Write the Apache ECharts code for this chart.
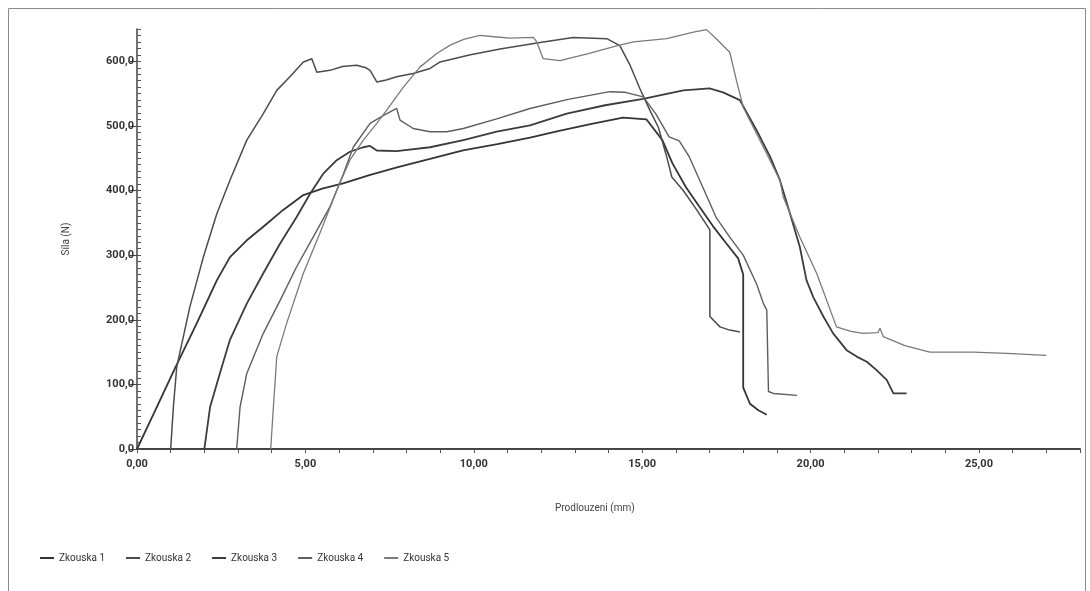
<!DOCTYPE html>
<html>
<head>
<meta charset="utf-8">
<script src="https://cdn.jsdelivr.net/npm/echarts@6/dist/echarts.min.js"></script>
<style>
html,body{margin:0;padding:0;background:#fff;}
#c{width:1090px;height:591px;}
</style>
</head>
<body>
<div id="c"></div>
<script>
// ---- data (x = Prodlouzeni mm, y = Síla N) ----
const seriesNames = ['Zkouska 1','Zkouska 2','Zkouska 3','Zkouska 4','Zkouska 5'];
const xTicks = [0,5,10,15,20,25];
const yTicks = [0,100,200,300,400,500,600];

const zkouska1 = [[0,0],[0.5,55],[1.13,125],[1.77,194],[2.37,261],[2.76,297],[3.26,323],[3.75,344],[4.34,370],[4.94,393],[5.5,403],[6.12,411],[6.9,424],[7.72,436],[8.7,449],[9.68,462],[10.7,472],[11.67,482],[12.5,492],[13.5,503],[14.43,513],[15.13,510],[15.6,478],[15.9,442],[16.3,405],[16.7,375],[17.1,345],[17.5,318],[17.85,295],[18.0,270],[18.0,95],[18.2,70],[18.45,60],[18.7,53]];

const zkouska2 = [[1.0,0],[1.08,65],[1.18,127],[1.57,220],[1.97,297],[2.37,364],[2.76,416],[3.26,478],[3.75,519],[4.15,555],[4.54,576],[4.94,599],[5.19,604],[5.34,583],[5.73,586],[6.1,592],[6.52,594],[6.8,590],[6.92,586],[7.12,568],[7.4,571],[7.71,576],[8.2,581],[8.7,589],[9.0,599],[9.9,610],[10.78,619],[11.97,629],[12.95,637],[13.95,635],[14.24,627],[14.34,624],[14.64,594],[14.93,558],[15.23,524],[15.48,498],[15.73,452],[15.88,421],[16.22,400],[16.62,370],[17.01,339],[17.01,205],[17.31,189],[17.6,184],[17.9,181]];

const zkouska3 = [[2.0,0],[2.17,65],[2.46,117],[2.76,169],[3.26,225],[3.75,272],[4.25,318],[4.74,359],[5.14,395],[5.53,426],[5.93,447],[6.32,460],[6.72,467],[6.92,469],[7.12,462],[7.71,461],[8.7,467],[9.69,478],[10.68,491],[11.67,501],[12.76,519],[13.9,532],[15.03,542],[16.22,555],[17.0,558],[17.4,552],[17.9,540],[18.4,493],[18.8,452],[19.09,416],[19.39,364],[19.68,313],[19.88,261],[20.08,235],[20.38,205],[20.67,179],[21.07,153],[21.37,143],[21.67,135],[21.96,122],[22.26,107],[22.46,86],[22.85,86]];

const zkouska4 = [[2.96,0],[3.06,65],[3.26,117],[3.75,179],[4.25,230],[4.74,282],[5.23,328],[5.73,375],[6.13,426],[6.42,467],[6.92,504],[7.31,516],[7.71,527],[7.81,509],[8.2,496],[8.7,491],[9.2,491],[9.69,496],[10.68,511],[11.67,527],[12.8,541],[14.04,553],[14.5,552],[15.03,545],[15.4,519],[15.8,483],[16.1,477],[16.4,452],[16.8,405],[17.2,358],[17.6,328],[18.0,300],[18.4,255],[18.6,225],[18.7,215],[18.75,215],[18.75,89],[18.9,86],[19.6,83]];

const zkouska5 = [[3.97,0],[4.05,65],[4.15,143],[4.44,194],[4.94,272],[5.43,334],[5.93,400],[6.32,447],[6.72,478],[7.12,504],[7.41,524],[7.91,560],[8.4,591],[8.9,612],[9.3,625],[9.7,634],[10.18,640],[10.6,638],[11.07,636],[11.77,637],[11.87,630],[12.06,604],[12.56,601],[13.4,612],[14.24,624],[14.74,630],[15.73,635],[16.52,645],[16.91,649],[17.2,635],[17.6,614],[17.8,570],[18.0,529],[18.6,467],[19.09,416],[19.19,390],[19.68,328],[20.18,272],[20.77,189],[21.2,182],[21.56,179],[22.0,180],[22.06,187],[22.16,174],[22.8,160],[23.54,150],[24.83,150],[25.82,148],[27.0,145]];

const seriesData = [zkouska1, zkouska2, zkouska3, zkouska4, zkouska5];
const seriesColors = ['#353535','#4c4c4c','#3c3c3c','#5e5e5e','#7a7a7a'];
const seriesWidths = [1.8, 1.5, 1.8, 1.4, 1.3];

const FONT = "Roboto, 'Liberation Sans', sans-serif";
const chart = echarts.init(document.getElementById('c'), null, {renderer:'canvas'});

const fmtX = v => v.toFixed(2).replace('.', ',');
const fmtY = v => v.toFixed(1).replace('.', ',');

chart.setOption({
  animation: false,
  backgroundColor: '#ffffff',
  grid: {left: 137, right: 10, top: 29, bottom: 142, containLabel: false},
  legend: {
    left: 35, top: 548,
    icon: 'rect', itemWidth: 14, itemHeight: 2, itemGap: 21, itemTextGap: 5,
    textStyle: {fontFamily: FONT, fontSize: 10, color: '#333'},
    data: seriesNames
  },
  xAxis: [{
    type: 'value', min: 0, max: 28, interval: 1,
    axisLine: {show: true, lineStyle: {color: '#444', width: 2}},
    axisTick: {show: true, inside: false, length: 4, lineStyle: {color: '#555'}},
    axisLabel: {customValues: xTicks, formatter: fmtX, fontFamily: FONT, fontSize: 11, fontWeight: 'bold', color: '#333', margin: 10},
    splitLine: {show: false}
  }],
  yAxis: [{
    type: 'value', min: 0, max: 650,
    name: 'Síla (N)', nameLocation: 'middle', nameGap: 66, nameRotate: 90,
    nameTextStyle: {fontFamily: FONT, fontSize: 10, color: '#444'},
    axisLine: {show: true, lineStyle: {color: '#444', width: 1.5}},
    axisTick: {show: true, inside: false, length: 7, customValues: yTicks, lineStyle: {color: '#444'}},
    axisLabel: {customValues: yTicks, formatter: fmtY, fontFamily: FONT, fontSize: 11, fontWeight: 'bold', color: '#333', margin: 3},
    splitLine: {show: false}
  },{
    type: 'value', min: 0, max: 650, interval: 10, position: 'left',
    axisLine: {show: false},
    axisTick: {show: true, inside: true, length: 4, lineStyle: {color: '#555'}},
    axisLabel: {show: false},
    splitLine: {show: false}
  }],
  graphic: [
    {type: 'rect', shape: {x: 8.5, y: 8.5, width: 1077, height: 600}, style: {fill: 'none', stroke: '#8a8a8a', lineWidth: 1}, silent: true},
    {type: 'text', left: 555, top: 503, style: {text: 'Prodlouzeni (mm)', font: "10px " + FONT, fill: '#444'}}
  ],
  series: seriesData.map((d, i) => ({
    name: seriesNames[i], type: 'line', data: d, xAxisIndex: 0, yAxisIndex: 0,
    showSymbol: false, symbol: 'none', smooth: false,
    lineStyle: {color: seriesColors[i], width: seriesWidths[i]},
    itemStyle: {color: seriesColors[i]}
  }))
});
</script>
</body>
</html>
